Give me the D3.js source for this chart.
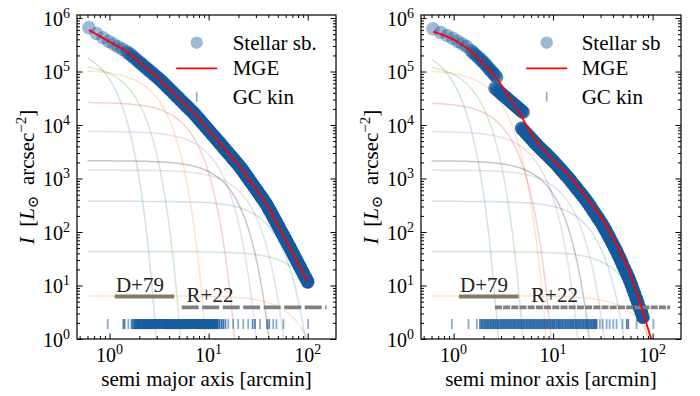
<!DOCTYPE html>
<html>
<head>
<meta charset="utf-8">
<script src="https://cdnjs.cloudflare.com/ajax/libs/d3/7.8.5/d3.min.js"></script>
<style>
  body { margin: 0; background: #fff; font-family: "Liberation Serif", "DejaVu Serif", serif; }
  svg text { font-family: "Liberation Serif", "DejaVu Serif", serif; white-space: pre; }
</style>
</head>
<body>
<div id="chart"></div>
<script>
// ---- stellar surface brightness, semi major axis [arcmin] / I [Lsun arcsec^-2]
const sbMajorR = [0.62, 0.74, 0.86, 0.98, 1.1, 1.22, 1.35, 1.5, 1.57, 1.65, 1.72, 1.8, 1.87, 1.95, 2.02, 2.1, 2.2,
    2.3, 2.4, 2.5, 2.6, 2.7, 2.8, 2.9, 3.0, 3.1, 3.22, 3.35, 3.47, 3.6, 3.72, 3.85, 3.97, 4.1, 4.25, 4.4, 4.55,
    4.7, 4.85, 5.0, 5.17, 5.35, 5.52, 5.7, 5.9, 6.1, 6.3, 6.5, 6.7, 6.9, 7.15, 7.4, 7.65, 7.9, 8.15, 8.4, 8.7,
    9.0, 9.3, 9.6, 9.9, 10.2, 10.55, 10.9, 11.25, 11.6, 12.0, 12.4, 12.8, 13.2, 13.65, 14.1, 14.55, 15.0, 15.5,
    16.0, 16.5, 17.0, 17.55, 18.1, 18.7, 19.3, 19.95, 20.6, 21.3, 22.0, 22.7, 23.4, 24.2, 25.0, 25.8, 26.6, 27.45,
    28.3, 29.25, 30.2, 31.2, 32.2, 33.25, 34.3, 35.4, 36.5, 37.7, 38.9, 40.15, 41.4, 42.75, 44.1, 45.5, 47.0,
    48.5, 50.1, 51.7, 53.3, 55.0, 56.8, 58.6, 60.5, 62.4, 64.4, 66.5, 68.6, 70.8, 73.1, 75.5, 77.9, 80.4, 83.0,
    85.7, 88.4, 91.2, 94.1, 97.0, 100];
const sbMajorI = [6.61e5, 5.13e5, 4.27e5, 3.67e5, 3.25e5, 2.91e5, 2.61e5, 2.33e5, 2.17e5, 2.03e5, 1.90e5, 1.77e5,
    1.66e5, 1.56e5, 1.47e5, 1.39e5, 1.29e5, 1.20e5, 1.12e5, 1.05e5, 9.9e4, 9.33e4, 8.82e4, 8.34e4, 7.91e4, 7.50e4,
    7.05e4, 6.62e4, 6.19e4, 5.79e4, 5.45e4, 5.12e4, 4.83e4, 4.56e4, 4.27e4, 4.00e4, 3.76e4, 3.54e4, 3.35e4, 3.16e4,
    2.97e4, 2.79e4, 2.63e4, 2.48e4, 2.33e4, 2.19e4, 2.07e4, 1.95e4, 1.85e4, 1.75e4, 1.63e4, 1.52e4, 1.42e4, 1.32e4,
    1.24e4, 1.16e4, 1.08e4, 1.00e4, 9350, 8730, 8180, 7670, 7150, 6670, 6240, 5830, 5430, 5060, 4730, 4420, 4110,
    3830, 3580, 3340, 3110, 2900, 2720, 2550, 2380, 2220, 2070, 1930, 1800, 1670, 1550, 1430, 1320, 1210, 1110,
    1020, 939, 865, 797, 735, 674, 619, 569, 524, 482, 444, 409, 377, 344, 313, 282, 254, 228, 205, 184, 165,
    148, 133, 119, 107, 96.2, 86.5, 77.7, 69.8, 62.5, 56.0, 50.1, 44.8, 40.0, 35.7, 31.9, 28.5, 25.5, 22.8,
    20.4, 18.2, 16.3, 14.6, 13.1, 11.7];

// semi minor axis: three surveys, they do not join up
const sbMinorR = [0.62, 0.74, 0.86, 0.98, 1.1, 1.22, 1.35, 1.5, 1.57, 1.65, 1.72, 1.8, 1.87, 1.95, 2.02, 2.1, 2.2,
    2.3, 2.4, 2.5, 2.6, 2.7,
    2.6, 2.7, 2.8, 2.9, 3.0, 3.1, 3.2, 3.32, 3.45, 3.57, 3.7, 3.82, 3.95, 4.07, 4.2, 4.35, 4.5, 4.65, 4.8, 4.9, 5.0,
    4.83, 5.0, 5.2, 5.4, 5.6, 5.8, 6.0, 6.25, 6.5, 6.75, 7.0, 7.3, 7.6, 7.9, 8.2, 8.55, 8.9, 9.25, 9.6, 10.0, 10.4,
    10.85, 11.3, 11.75, 12.2, 12.7, 13.2, 13.75, 14.3, 14.9, 15.5, 16.15, 16.8, 17.5, 18.2, 18.95, 19.7, 20.5,
    21.3, 22.15, 23.0, 23.95, 24.9, 25.9, 26.9, 28.0, 29.1, 30.3, 31.5, 32.75, 34.0, 35.4, 36.8, 38.3, 39.8,
    41.4, 43.0, 44.75, 46.5, 48.35, 50.2, 52.2, 54.3, 56.5, 58.7, 61.0, 63.4, 65.9, 68.5, 71.2, 74.0, 77.0, 80.0];
const sbMinorI = [6.31e5, 5.36e5, 4.73e5, 4.17e5, 3.67e5, 3.27e5, 2.93e5, 2.45e5, 2.26e5, 2.08e5, 1.93e5, 1.79e5,
    1.67e5, 1.56e5, 1.45e5, 1.34e5, 1.21e5, 1.10e5, 1.01e5, 9.25e4, 8.51e4, 7.83e4,
    4.90e4, 4.63e4, 4.37e4, 4.13e4, 3.91e4, 3.71e4, 3.52e4, 3.32e4, 3.13e4, 2.96e4, 2.79e4, 2.65e4, 2.52e4, 2.40e4,
    2.28e4, 2.16e4, 2.04e4, 1.94e4, 1.84e4, 1.78e4, 1.73e4,
    8710, 8090, 7500, 6950, 6440, 6000, 5600, 5160, 4750, 4410, 4100, 3800, 3530, 3300, 3080, 2860, 2650, 2470,
    2310, 2130, 1970, 1810, 1660, 1530, 1410, 1300, 1190, 1100, 1010, 922, 841, 766, 697, 635, 578, 527, 480,
    438, 400, 361, 326, 292, 261, 234, 210, 188, 169, 151, 135, 118, 104, 90.5, 78.7, 68.5, 59.6, 52.0, 45.3,
    38.8, 33.2, 28.4, 24.2, 20.6, 17.5, 14.9, 12.7, 10.4, 8.57, 7.01, 5.73, 4.69, 3.84, 3.14, 2.56];
// radial step of the original profiles [arcmin]: coarse in the centre, finer outside
const sbStepInner = 0.12, sbStepOuter = 0.05, sbStepBreak = 1.4;

// ---- MGE total (red line)
const mgeMajorR = [0.62, 0.8, 1.0, 1.5, 2.0, 3.0, 4.0, 5.0, 7.0, 10, 14, 20, 28, 40, 55, 75, 100];
const mgeMajorI = [5.97e5, 4.56e5, 3.60e5, 2.33e5, 1.50e5, 7.91e4, 4.77e4, 3.16e4, 1.70e4, 8000, 3880, 1790, 757,
    285, 96.6, 32.5, 11.7];
const mgeMinorR = [0.625, 1.16, 1.64, 2.32, 2.93, 3.69, 4.65, 5.86, 7.38, 9.31, 14.8, 21.8, 31.9, 43.9, 59.2, 80.6,
    94.2, 108];
const mgeMinorI = [5.55e5, 3.37e5, 2.03e5, 1.02e5, 6.10e4, 3.06e4, 1.61e4, 7400, 4050, 2520, 1070, 432, 161, 57.1,
    17.1, 3.06, 1.19, 0.57];

// ---- MGE gaussian components (peak, sigma along each axis)
const mgeAmp = [3.0e5, 1.42e5, 1.07e5, 2.66e4, 7.6e3, 2.15e3, 1.44e3, 375, 42.9, 6.4];
const mgeSigMajor = [0.59, 1.07, 1.94, 4.06, 7.14, 10.4, 15.0, 27.5, 60, 52];
const mgeSigMinor = [0.56, 1.02, 1.77, 2.12, 4.18, 5.9, 8.56, 15.0, 33, 50];
const mgeColors = ['#1f77b4', '#2ca02c', '#ff7f0e', '#d62728', '#9467bd', '#000000', '#7f7f7f', '#1f77b4', '#2ca02c', '#ff7f0e'];

// ---- GC kinematics radii
const gcMajor = [0.96, 1.38, 1.42, 1.55, 1.67, 1.72, 1.78, 1.83, 1.88, 1.93, 1.98, 2.03, 2.08, 2.14, 2.2, 2.25, 2.31,
    2.37, 2.42, 2.48, 2.55, 2.61, 2.67, 2.74, 2.8, 2.87, 2.94, 3.01, 3.08, 3.16, 3.23, 3.31, 3.39, 3.47, 3.55, 3.64,
    3.73, 3.82, 3.91, 4.0, 4.1, 4.2, 4.3, 4.41, 4.52, 4.63, 4.74, 4.85, 4.97, 5.09, 5.21, 5.34, 5.47, 5.6, 5.74, 5.88,
    6.02, 6.17, 6.32, 6.47, 6.63, 6.79, 6.95, 7.12, 7.3, 7.47, 7.66, 7.84, 8.03, 8.23, 8.43, 8.63, 8.84, 9.06, 9.28,
    9.5, 9.74, 9.97, 10.2, 10.5, 10.7, 11.0, 11.3, 11.5, 11.8, 12.1, 12.4, 12.9, 13.5, 14.1, 14.8, 15.8, 17.7, 19.9,
    22.4, 25.1, 27.8, 29.4, 33.0, 39.0, 40.9, 44.9, 48.4, 56.9, 101];
const gcMinor = [0.96, 1.41, 1.71, 1.84, 1.9, 1.97, 2.04, 2.11, 2.18, 2.25, 2.33, 2.41, 2.49, 2.57, 2.66, 2.75, 2.84,
    2.94, 3.04, 3.14, 3.25, 3.36, 3.47, 3.59, 3.71, 3.84, 3.97, 4.1, 4.24, 4.39, 4.54, 4.69, 4.85, 5.01, 5.18, 5.36,
    5.54, 5.73, 5.92, 6.12, 6.33, 6.55, 6.77, 7.0, 7.24, 7.48, 7.74, 8.0, 8.27, 8.55, 8.84, 9.14, 9.45, 9.77, 10.1,
    10.4, 10.8, 11.2, 11.5, 11.9, 12.3, 12.7, 13.2, 13.6, 14.1, 14.6, 15.1, 15.6, 16.1, 16.7, 17.2, 17.8, 18.4, 19.0,
    19.7, 20.4, 21.1, 21.8, 22.5, 23.3, 24.1, 24.9, 25.8, 26.6, 27.4, 29.5, 31.5, 34.5, 37.0, 40.3, 43.5, 49.9, 55.0,
    57.0, 69.0, 102];
const gcLevel = 1.9;

// ---- literature ranges
const d79Range = [1.13, 4.5];
const d79Level = 6.2;
const r22Major = [5.35, 155];
const r22Minor = [2.6, 150];
const r22Level = 3.9;

const W = 700, H = 396;
const yTop = 15, yBottom = 339;
const ptColor = '#15599c';
const ptAlpha = 0.42;
const gcAlpha = 0.5;

const svg = d3.select('#chart').append('svg')
    .attr('width', W)
    .attr('height', H);

const panels = [
    { id: 'maj', x0: 77, x1: 336, xlabel: 'semi major axis [arcmin]', sbLabel: 'Stellar sb.',
      sbR: sbMajorR, sbI: sbMajorI, mgeR: mgeMajorR, mgeI: mgeMajorI, sig: mgeSigMajor, gc: gcMajor,
      r22: r22Major, legX: 196.7, legTextX: 232.7 },
    { id: 'min', x0: 421, x1: 681, xlabel: 'semi minor axis [arcmin]', sbLabel: 'Stellar sb',
      sbR: sbMinorR, sbI: sbMinorI, mgeR: mgeMinorR, mgeI: mgeMinorI, sig: mgeSigMinor, gc: gcMinor,
      r22: r22Minor, legX: 546.7, legTextX: 581.7 }
];

panels.forEach(drawPanel);

function powLabel(t, k) {
    t.append('tspan').text('10');
    t.append('tspan').attr('dy', -8).attr('font-size', 14).text(k);
}

function drawPanel(p) {
    let x = d3.scaleLog().domain([0.47, 193]).range([p.x0, p.x1]),
        y = d3.scaleLog().domain([1, 1.14e6]).range([yBottom, yTop]);

    let g = svg.append('g');

    g.append('clipPath').attr('id', 'clip-' + p.id)
        .append('rect')
        .attr('x', p.x0).attr('y', yTop)
        .attr('width', p.x1 - p.x0).attr('height', yBottom - yTop);

    let plot = g.append('g').attr('clip-path', 'url(#clip-' + p.id + ')');

    // gaussian components of the MGE, evaluated on a radius grid
    let rGrid = d3.range(200).map(i => 0.6 * Math.pow(100 / 0.6, i / 199));
    let compLine = d3.line()
        .defined(d => d[1] > 1e-3)
        .x(d => x(d[0]))
        .y(d => y(d[1]));

    mgeAmp.forEach(function(a, i) {
        let s = p.sig[i];
        let pts = rGrid.map(r => [r, a * Math.exp(-r * r / (2 * s * s))]);
        plot.append('path')
            .attr('d', compLine(pts))
            .style('fill', 'none')
            .style('stroke', mgeColors[i])
            .style('stroke-width', 1.5)
            .style('opacity', 0.22);
    });

    // Dirsch+79 bar
    plot.append('line')
        .attr('x1', x(d79Range[0])).attr('x2', x(d79Range[1]))
        .attr('y1', y(d79Level)).attr('y2', y(d79Level))
        .style('stroke', '#857b69')
        .style('stroke-width', 4);

    g.append('text')
        .attr('x', x(1.16)).attr('y', y(7.5))
        .attr('font-size', 21)
        .style('fill', '#222')
        .text('D+79');

    g.append('text')
        .attr('x', x(6.0)).attr('y', y(5.0))
        .attr('font-size', 21)
        .style('fill', '#222')
        .text('R+22');

    // stellar surface brightness; each circle stands for the points of the
    // original profile that fall within its radial step
    let sb = p.sbR.map(function(r, i) {
        let next = p.sbR[i + 1], prev = p.sbR[i - 1];
        let step = (next !== undefined && next > r) ? next - r : (prev !== undefined && prev < r ? r - prev : sbStepInner);
        let orig = r < sbStepBreak ? sbStepInner : sbStepOuter;
        let a = 1 - Math.pow(1 - ptAlpha, Math.max(1, step / orig));
        return [r, p.sbI[i], a];
    });
    plot.append('g').selectAll('circle')
        .data(sb)
        .enter()
        .append('circle')
        .attr('cx', d => x(d[0]))
        .attr('cy', d => y(d[1]))
        .attr('r', 6.8)
        .style('fill', ptColor)
        .style('fill-opacity', d => d[2]);

    // R+22 dashed
    plot.append('line')
        .attr('x1', x(p.r22[0])).attr('x2', x(p.r22[1]))
        .attr('y1', y(r22Level)).attr('y2', y(r22Level))
        .style('stroke', '#808080')
        .style('stroke-width', 3.8)
        .style('stroke-dasharray', p.id == 'maj' ? '17,3.5' : '7,1.2');

    // MGE total
    let mge = p.mgeR.map((r, i) => [r, p.mgeI[i]]);
    plot.append('path')
        .attr('d', d3.line().curve(d3.curveMonotoneX).x(d => x(d[0])).y(d => y(d[1]))(mge))
        .style('fill', 'none')
        .style('stroke', '#ff0000')
        .style('stroke-width', 1.8);

    // GC radii; crowded ticks pile up, so darken them by local crowding
    let gcPx = p.gc.map(d => x(d));
    plot.append('g').selectAll('line')
        .data(p.gc)
        .enter()
        .append('line')
        .attr('x1', d => x(d)).attr('x2', d => x(d))
        .attr('y1', y(gcLevel) - 5).attr('y2', y(gcLevel) + 5)
        .style('stroke', ptColor)
        .style('stroke-width', 1.8)
        .style('stroke-opacity', function(d) {
            let n = gcPx.filter(v => Math.abs(v - x(d)) < 2.6).length;
            return 1 - Math.pow(1 - gcAlpha, Math.max(1, 0.9 * n));
        });

    // legend
    let leg = g.append('g').attr('font-size', 21);
    leg.append('circle')
        .attr('cx', p.legX).attr('cy', 42.7).attr('r', 6.2)
        .style('fill', ptColor).style('fill-opacity', ptAlpha);
    leg.append('text').attr('x', p.legTextX).attr('y', 49.7).text(p.sbLabel);
    leg.append('line')
        .attr('x1', p.legX - 20.5).attr('x2', p.legX + 20.5)
        .attr('y1', 68.3).attr('y2', 68.3)
        .style('stroke', '#ff0000').style('stroke-width', 1.8);
    leg.append('text').attr('x', p.legTextX).attr('y', 75.3).text('MGE');
    leg.append('line')
        .attr('x1', p.legX).attr('x2', p.legX)
        .attr('y1', 91.7).attr('y2', 101.7)
        .style('stroke', ptColor).style('stroke-width', 1.6).style('stroke-opacity', gcAlpha);
    leg.append('text').attr('x', p.legTextX).attr('y', 103.7).text('GC kin');

    // ticks on all four sides, pointing in
    let isMajor = v => Math.abs(Math.log10(v) - Math.round(Math.log10(v))) < 1e-9;
    let xt = x.ticks(), yt = y.ticks();
    let xMaj = xt.filter(isMajor), xMin = xt.filter(v => !isMajor(v));
    let yMaj = yt.filter(isMajor), yMin = yt.filter(v => !isMajor(v));

    function side(axisFn, scale, vals, size, tx, ty) {
        g.append('g')
            .attr('transform', 'translate(' + tx + ',' + ty + ')')
            .call(axisFn(scale).tickValues(vals).tickSize(size).tickFormat(''))
            .call(s => s.select('.domain').remove())
            .call(s => s.selectAll('line').style('stroke-width', 1));
    }
    side(d3.axisBottom, x, xMaj, -5.5, 0, yBottom);
    side(d3.axisBottom, x, xMin, -3, 0, yBottom);
    side(d3.axisTop, x, xMaj, -5.5, 0, yTop);
    side(d3.axisTop, x, xMin, -3, 0, yTop);
    side(d3.axisLeft, y, yMaj, -5.5, p.x0, 0);
    side(d3.axisLeft, y, yMin, -3, p.x0, 0);
    side(d3.axisRight, y, yMaj, -5.5, p.x1, 0);
    side(d3.axisRight, y, yMin, -3, p.x1, 0);

    // frame
    g.append('rect')
        .attr('x', p.x0).attr('y', yTop)
        .attr('width', p.x1 - p.x0).attr('height', yBottom - yTop)
        .style('fill', 'none')
        .style('stroke', '#000')
        .style('stroke-width', 1.2);

    // tick labels
    xMaj.forEach(function(v) {
        let t = g.append('text')
            .attr('x', x(v)).attr('y', 362)
            .attr('text-anchor', 'middle')
            .attr('font-size', 20);
        powLabel(t, Math.round(Math.log10(v)));
    });
    yMaj.forEach(function(v) {
        let t = g.append('text')
            .attr('x', p.x0 - 7).attr('y', y(v) + 7.5)
            .attr('text-anchor', 'end')
            .attr('font-size', 20);
        powLabel(t, Math.round(Math.log10(v)));
    });

    // axis labels
    g.append('text')
        .attr('x', (p.x0 + p.x1) / 2).attr('y', 386)
        .attr('text-anchor', 'middle')
        .attr('font-size', 21)
        .text(p.xlabel);

    let yl = g.append('text')
        .attr('transform', 'translate(' + (p.x0 - 43) + ',' + ((yTop + yBottom) / 2) + ') rotate(-90)')
        .attr('text-anchor', 'middle')
        .attr('font-size', 21);
    yl.append('tspan').style('font-style', 'italic').text('I');
    yl.append('tspan').text('  [');
    yl.append('tspan').style('font-style', 'italic').text('L');
    yl.append('tspan').attr('dy', 4).attr('font-size', 15).text('\u2299');
    yl.append('tspan').attr('dy', -4).text('  arcsec');
    yl.append('tspan').attr('dy', -8).attr('font-size', 15).text('\u22122');
    yl.append('tspan').attr('dy', 8).text(']');
}
</script>
</body>
</html>
